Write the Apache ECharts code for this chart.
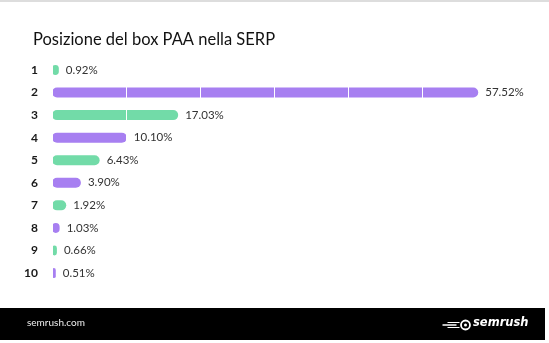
<!DOCTYPE html>
<html>
<head>
<meta charset="utf-8">
<script src="https://cdn.jsdelivr.net/npm/echarts@6/dist/echarts.min.js"></script>
<style>
html,body{margin:0;padding:0;background:#fff;}
#chart{width:549px;height:343px;}
</style>
</head>
<body>
<div id="chart"></div>
<script>
var categories = ['1','2','3','4','5','6','7','8','9','10'];
var values = [0.92, 57.52, 17.03, 10.10, 6.43, 3.90, 1.92, 1.03, 0.66, 0.51];
var titleText = 'Posizione del box PAA nella SERP';
var footerText = 'semrush.com';
var logoText = 'semrush';

var GREEN = '#72dba8', PURPLE = '#a77ff1';
var chart = echarts.init(document.getElementById('chart'), null, {renderer:'canvas'});
chart.setOption({
  backgroundColor: '#fff',
  animation: false,
  title: {
    text: titleText, left: 28, top: 26,
    textStyle: {fontFamily: 'Lato', fontSize: 16.5, fontWeight: 'normal', color: '#111'}
  },
  grid: {left: 52, right: 52.4, top: 58.7, bottom: 58.7, containLabel: false},
  xAxis: {
    type: 'value', min: 0, max: 60, interval: 10, z: 3,
    axisLabel: {show: false}, axisLine: {show: false}, axisTick: {show: false},
    splitLine: {show: true, lineStyle: {color: '#ffffff', width: 1}}
  },
  yAxis: {
    type: 'category', data: categories, inverse: true,
    axisLine: {show: false}, axisTick: {show: false},
    axisLabel: {margin: 14, fontFamily: 'Lato', fontWeight: 'bold', fontSize: 12, color: '#1a1a1a'}
  },
  series: [{
    type: 'bar', data: values, barWidth: 10, z: 2,
    itemStyle: {
      borderRadius: 5,
      color: function (p) { return p.dataIndex % 2 === 0 ? GREEN : PURPLE; }
    }
  }, {
    type: 'bar', data: values, barWidth: 10, barGap: '-100%', z: 5,
    silent: true,
    itemStyle: {color: 'rgba(0,0,0,0)'},
    label: {
      show: true, position: 'right', distance: 7,
      fontFamily: 'Lato', fontSize: 11.5, color: '#333',
      formatter: function (p) { return p.value.toFixed(2) + '%'; }
    }
  }],
  graphic: [
    {type: 'rect', left: 0, top: 0, shape: {width: 549, height: 2}, style: {fill: '#dddddd'}},
    {type: 'rect', left: 0, top: 308, shape: {width: 545, height: 32}, style: {fill: '#000'}},
    {type: 'text', left: 27, top: 318, style: {text: footerText, fill: '#eee', fontFamily: 'Lato', fontSize: 10}},
    {type: 'group', left: 440, top: 318, children: [
      {type: 'line', shape: {x1: 0, y1: 6, x2: 14, y2: 6}, style: {stroke: '#fff', lineWidth: 1.5}},
      {type: 'line', shape: {x1: 5, y1: 3.5, x2: 17, y2: 3.5}, style: {stroke: '#fff', lineWidth: 1}},
      {type: 'line', shape: {x1: 5, y1: 8.5, x2: 17, y2: 8.5}, style: {stroke: '#fff', lineWidth: 1}},
      {type: 'circle', shape: {cx: 23, cy: 6, r: 4.5}, style: {fill: 'none', stroke: '#fff', lineWidth: 1.8}},
      {type: 'circle', shape: {cx: 23, cy: 6, r: 1.5}, style: {fill: '#fff'}}
    ]},
    {type: 'text', left: 473, top: 317, style: {text: logoText, fill: '#fff', fontFamily: 'DejaVu Sans', fontStyle: 'italic', fontWeight: 'bold', fontSize: 11.5}}
  ]
});
</script>
</body>
</html>
